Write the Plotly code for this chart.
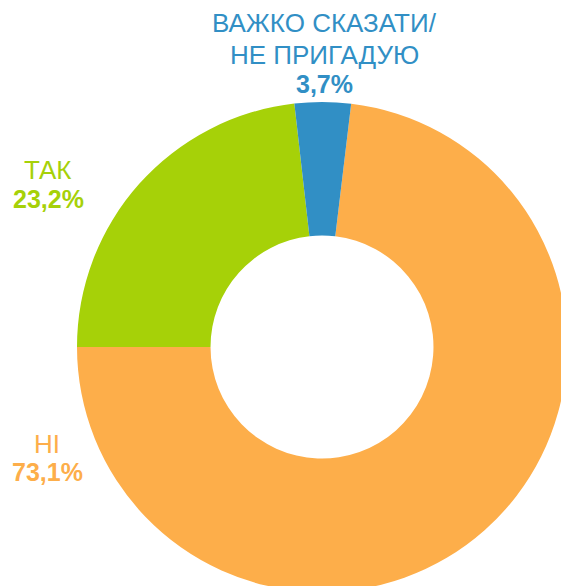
import plotly.graph_objects as go

labels = ["НІ", "ТАК", "ВАЖКО СКАЗАТИ/<br>НЕ ПРИГАДУЮ"]
values = [73.1, 23.2, 3.7]
pct_text = ["73,1%", "23,2%", "3,7%"]
colors = ["#FDAE4A", "#A6D108", "#318FC5"]

W, H = 567, 592  # slightly larger than the window so the ring runs off the edge

fig = go.Figure(data=[go.Pie(
    labels=labels,
    values=values,
    sort=False,
    direction="clockwise",
    rotation=6.84,
    hole=0.455,
    marker=dict(colors=colors, line=dict(width=0)),
    textinfo="none",
    hoverinfo="label+percent",
    domain=dict(x=[77 / W, 1], y=[0, 1 - 102 / H]),
    showlegend=False,
)])

# label lines: (text, x px, y px, bold)
label_lines = [
    [("НІ", 47, 444, False), ("73,1%", 47, 472, True)],
    [("ТАК", 48, 170, False), ("23,2%", 48, 199, True)],
    [("ВАЖКО СКАЗАТИ/", 324, 23, False), ("НЕ ПРИГАДУЮ", 324, 55, False), ("3,7%", 324, 84, True)],
]

for lines, col in zip(label_lines, colors):
    for txt, x, y, bold in lines:
        fig.add_annotation(
            x=x / W, y=1 - y / H, xref="paper", yref="paper",
            xanchor="center", yanchor="middle",
            text=f"<b>{txt}</b>" if bold else txt,
            showarrow=False,
            font=dict(family="Liberation Sans, Arial, sans-serif",
                      size=25 if bold else 26, color=col),
        )

fig.update_layout(
    width=W,
    height=H,
    margin=dict(l=0, r=0, t=0, b=0),
    paper_bgcolor="white",
    plot_bgcolor="white",
)

fig.write_html(
    "out.html",
    config={"displayModeBar": False},
    post_script="document.body.style.margin='0';document.body.style.overflow='hidden';",
)
